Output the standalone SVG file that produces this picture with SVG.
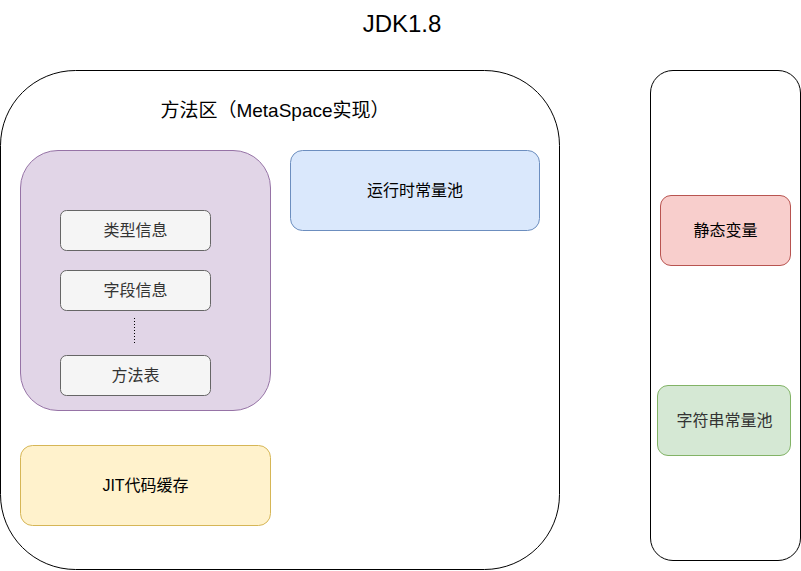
<svg xmlns="http://www.w3.org/2000/svg" width="801" height="571" viewBox="0 0 801 571">
<style>
text{font-family:"Liberation Sans","Noto Sans CJK SC",sans-serif;text-anchor:middle;dominant-baseline:central;fill:#000}
.item rect{fill:#f5f5f5;stroke:#666666}
.item text{fill:#333333;font-size:16px}
.n{font-size:16px}
</style>
<rect width="801" height="571" fill="#ffffff"/>
<text x="402" y="23" style="font-size:24px">JDK1.8</text>
<g id="method-area">
<rect x="0.5" y="70.5" width="559" height="499" rx="75" ry="75" fill="#ffffff" stroke="#000000"/>
<text x="275" y="110" style="font-size:19px">方法区（MetaSpace实现）</text>
</g>
<g id="class-info">
<rect x="20.5" y="150.5" width="250" height="260" rx="37.5" ry="37.5" fill="#e1d5e7" stroke="#9673a6"/>
</g>
<g id="type-info" class="item">
<rect x="60.5" y="210.5" width="150" height="40" rx="6" ry="6"/>
<text x="135.5" y="230">类型信息</text>
</g>
<g id="field-info" class="item">
<rect x="60.5" y="270.5" width="150" height="40" rx="6" ry="6"/>
<text x="135.5" y="290">字段信息</text>
</g>
<g id="method-table" class="item">
<rect x="60.5" y="355.5" width="150" height="40" rx="6" ry="6"/>
<text x="135.5" y="375">方法表</text>
</g>
<g id="connectors">
<line x1="134.5" y1="318" x2="134.5" y2="343" stroke="#000000" stroke-dasharray="1 2"/>
</g>
<g id="runtime-pool">
<rect x="290.5" y="150.5" width="249" height="80" rx="12" ry="12" fill="#dae8fc" stroke="#6c8ebf"/>
<text class="n" x="415" y="190">运行时常量池</text>
</g>
<g id="jit-cache">
<rect x="20.5" y="445.5" width="250" height="80" rx="12" ry="12" fill="#fff2cc" stroke="#d6b656"/>
<text class="n" x="145.5" y="485">JIT代码缓存</text>
</g>
<g id="heap">
<rect x="650.5" y="70.5" width="150" height="490" rx="22.5" ry="22.5" fill="#ffffff" stroke="#000000"/>
</g>
<g id="static-vars">
<rect x="660.5" y="195.5" width="130" height="70" rx="10.5" ry="10.5" fill="#f8cecc" stroke="#b85450"/>
<text class="n" x="725.5" y="230">静态变量</text>
</g>
<g id="string-pool">
<rect x="657.5" y="385.5" width="133" height="70" rx="10.5" ry="10.5" fill="#d5e8d4" stroke="#82b366"/>
<text class="n" x="724.5" y="420" style="fill:#333333">字符串常量池</text>
</g>
</svg>
